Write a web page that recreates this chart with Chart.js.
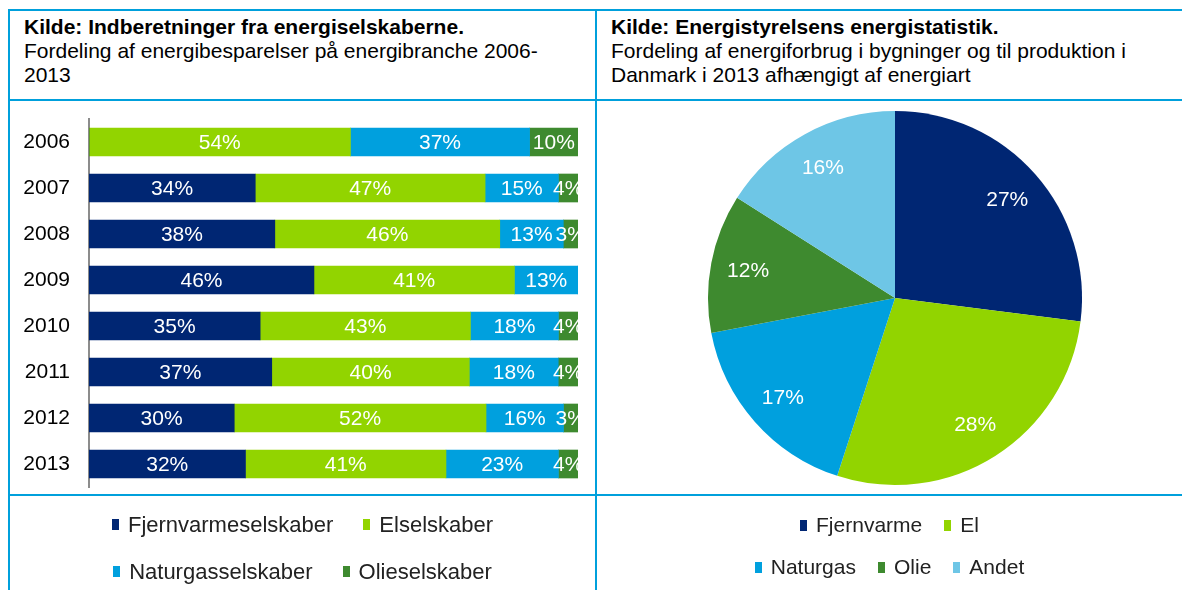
<!DOCTYPE html>
<html lang="da">
<head>
<meta charset="utf-8">
<title>Energibesparelser og energiforbrug</title>
<script src="https://cdn.jsdelivr.net/npm/chart.js@4/dist/chart.umd.min.js"></script>
<style>
    body { margin: 0; background: #fff; font-family: "Liberation Sans", Arial, sans-serif; }
    #side { position: relative; width: 1182px; height: 590px; overflow: hidden; }
    .linje { position: absolute; background: #00a0dc; }
    .hoved { position: absolute; top: 15px; font-size: 21px; line-height: 24px; color: #000; white-space: nowrap; }
    .hoved b { font-weight: bold; }
    .boks { position: absolute; }
    .boks canvas { display: block; }
    .legende { position: absolute; font-size: 21px; color: #222; }
    .legende .raekke { display: flex; justify-content: center; align-items: center; }
    .legende .punkt { display: flex; align-items: center; }
    .legende .firkant { width: 7px; height: 11px; margin-right: 9px; }
</style>
</head>
<body>
<div id="side">
    <!-- tabelrammer -->
    <div class="linje" style="left:8px; top:9px; width:1174px; height:2px;"></div>
    <div class="linje" style="left:8px; top:9px; width:2px; height:581px;"></div>
    <div class="linje" style="left:595px; top:9px; width:2px; height:581px;"></div>
    <div class="linje" style="left:8px; top:99px; width:1174px; height:2px;"></div>
    <div class="linje" style="left:8px; top:494px; width:1174px; height:2px;"></div>

    <div class="hoved" style="left:24px;">
        <b>Kilde: Indberetninger fra energiselskaberne.</b><br>
        Fordeling af energibesparelser på energibranche 2006-<br>2013
    </div>
    <div class="hoved" style="left:611px;">
        <b>Kilde: Energistyrelsens energistatistik.</b><br>
        Fordeling af energiforbrug i bygninger og til produktion i<br>Danmark i 2013 afhængigt af energiart
    </div>

    <div class="boks" style="left:10px; top:79px;">
        <canvas id="soejler" width="585" height="448"></canvas>
    </div>
    <div class="boks" style="left:597px; top:101px;">
        <canvas id="lagkage" width="585" height="393"></canvas>
    </div>

    <div class="legende" id="legende-venstre" style="left:10px; top:501px; width:585px; font-size:22px;"></div>
    <div class="legende" id="legende-hoejre" style="left:597px; top:504px; width:585px;"></div>
</div>

<script>
// --- DATA: energibesparelser pr. branche (%) ---
const aar = ["2006", "2007", "2008", "2009", "2010", "2011", "2012", "2013"];
const fjernvarmeselskaber = [0, 34, 38, 46, 35, 37, 30, 32];
const elselskaber = [54, 47, 46, 41, 43, 40, 52, 41];
const naturgasselskaber = [37, 15, 13, 13, 18, 18, 16, 23];
const olieselskaber = [10, 4, 3, 0, 4, 4, 3, 4];

// --- DATA: energiforbrug 2013 (%) ---
const energiarter = ["Fjernvarme", "El", "Naturgas", "Olie", "Andet"];
const forbrug = [27, 28, 17, 12, 16];

const FARVER = {
    navy: "#002673",
    groen: "#92d400",
    blaa: "#00a0de",
    moerkgroen: "#3e8a2f",
    lyseblaa: "#6ec6e6"
};

const serier = [
    { navn: "Fjernvarmeselskaber", data: fjernvarmeselskaber, farve: FARVER.navy },
    { navn: "Elselskaber", data: elselskaber, farve: FARVER.groen },
    { navn: "Naturgasselskaber", data: naturgasselskaber, farve: FARVER.blaa },
    { navn: "Olieselskaber", data: olieselskaber, farve: FARVER.moerkgroen }
];

// 100% stablet: hver søjle skaleres til sin egen sum
const summer = aar.map((a, i) => serier.reduce((s, x) => s + x.data[i], 0));

const SKRIFT = "'Liberation Sans', Arial, sans-serif";

// tegner procenttal midt i hvert felt
const procentEtiketter = {
    id: "procentEtiketter",
    afterDatasetsDraw(chart) {
        const ctx = chart.ctx;
        ctx.save();
        ctx.fillStyle = "#fff";
        ctx.font = "21px " + SKRIFT;
        ctx.textAlign = "center";
        ctx.textBaseline = "middle";
        chart.data.datasets.forEach((ds, d) => {
            const meta = chart.getDatasetMeta(d);
            meta.data.forEach((el, i) => {
                const raa = ds.raa[i];
                if (!raa) return;
                if (chart.config.type === "pie") {
                    const vinkel = (el.startAngle + el.endAngle) / 2;
                    const r = el.outerRadius * 0.8;
                    ctx.fillText(raa + "%", el.x + Math.cos(vinkel) * r, el.y + Math.sin(vinkel) * r + 1);
                } else {
                    ctx.fillText(raa + "%", (el.x + el.base) / 2, el.y + 1);
                }
            });
        });
        ctx.restore();
    }
};

new Chart(document.getElementById("soejler"), {
    type: "bar",
    data: {
        labels: aar,
        datasets: serier.map(s => ({
            label: s.navn,
            data: s.data.map((v, i) => v / summer[i] * 100),
            raa: s.data,
            backgroundColor: s.farve,
            borderWidth: 0,
            barThickness: 28
        }))
    },
    options: {
        indexAxis: "y",
        responsive: false,
        animation: false,
        devicePixelRatio: 1,
        layout: { padding: { top: 40, right: 17, bottom: 40, left: 0 } },
        plugins: { legend: { display: false }, tooltip: { enabled: false } },
        scales: {
            x: { stacked: true, min: 0, max: 100, display: false },
            y: {
                stacked: true,
                grid: { display: false },
                border: { display: true, color: "#8c8c8c", width: 2 },
                ticks: { color: "#000", font: { size: 21, family: SKRIFT }, padding: 11 },
                afterFit: (skala) => { skala.width = 79; }
            }
        }
    },
    plugins: [procentEtiketter]
});

new Chart(document.getElementById("lagkage"), {
    type: "pie",
    data: {
        labels: energiarter,
        datasets: [{
            data: forbrug,
            raa: forbrug,
            backgroundColor: [FARVER.navy, FARVER.groen, FARVER.blaa, FARVER.moerkgroen, FARVER.lyseblaa],
            borderWidth: 0
        }]
    },
    options: {
        responsive: false,
        animation: false,
        devicePixelRatio: 1,
        layout: { padding: { top: 10, bottom: 9, left: 11, right: 0 } },
        plugins: { legend: { display: false }, tooltip: { enabled: false } }
    },
    plugins: [procentEtiketter]
});

// --- legender i nederste række ---
function byggLegende(id, raekker, hoejde, afstand) {
    const boks = document.getElementById(id);
    raekker.forEach(r => {
        const div = document.createElement("div");
        div.className = "raekke";
        div.style.height = hoejde + "px";
        div.style.gap = afstand + "px";
        r.forEach(p => {
            div.innerHTML += `<span class="punkt"><span class="firkant" style="background:${p.farve}"></span>${p.navn}</span>`;
        });
        boks.appendChild(div);
    });
}

byggLegende("legende-venstre", [serier.slice(0, 2), serier.slice(2, 4)], 47, 30);

const pieFarver = [FARVER.navy, FARVER.groen, FARVER.blaa, FARVER.moerkgroen, FARVER.lyseblaa];
const pieSerier = energiarter.map((n, i) => ({ navn: n, farve: pieFarver[i] }));
byggLegende("legende-hoejre", [pieSerier.slice(0, 2), pieSerier.slice(2, 5)], 42, 22);
</script>
</body>
</html>
